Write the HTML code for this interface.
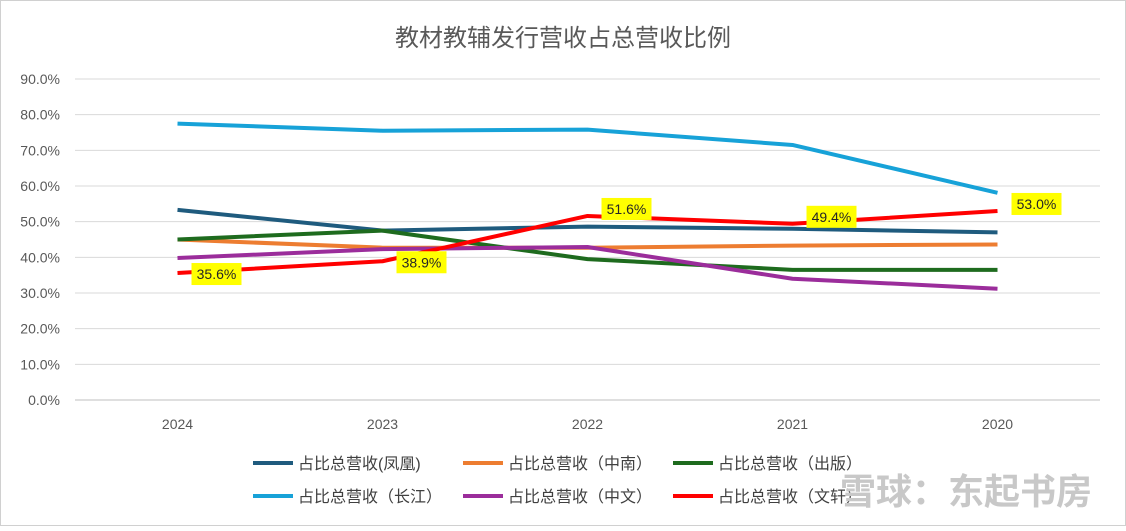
<!DOCTYPE html>
<html><head><meta charset="utf-8">
<style>
body{margin:0;background:#fff;}
svg text{font-family:"Liberation Sans","Noto Sans CJK SC",sans-serif;}
</style></head>
<body>
<svg id="chart" width="1126" height="526" viewBox="0 0 1126 526" xmlns="http://www.w3.org/2000/svg">
<rect x="0.5" y="0.5" width="1125" height="525" fill="#fff" stroke="#d0d0d0"/>
<text x="563" y="46" text-anchor="middle" font-size="24" fill="#595959">教材教辅发行营收占总营收比例</text>
<g id="grid"></g><g id="series"></g><g id="labels"></g><g id="legend"></g>
<text x="1092" y="504" text-anchor="end" font-size="36" fill="#c8c8c8" font-weight="bold">雪球：东起书房</text>
</svg>
<script>
const categories=["2024","2023","2022","2021","2020"];
const yTicks=[0,10,20,30,40,50,60,70,80,90];
const seriesNames=["占比总营收(凤凰)","占比总营收（中南）","占比总营收（出版）","占比总营收（长江）","占比总营收（中文）","占比总营收（文轩）"];
const fenghuang=[53.3,47.5,48.6,48.0,47.0];
const zhongnan=[45.0,42.7,42.7,43.3,43.6];
const chuban=[45.0,47.5,39.5,36.5,36.5];
const changjiang=[77.5,75.5,75.8,71.5,58.1];
const zhongwen=[39.8,42.3,42.9,34.0,31.2];
const wenxuan=[35.6,38.9,51.6,49.4,53.0];
const colors=["#1f5b7e","#ed7d31","#1e6b1e","#17a2d8","#9b2d9b","#ff0000"];
const NS="http://www.w3.org/2000/svg";
const x0=75,x1=1100,y0=400,yTop=79;
function xs(i){return x0+(x1-x0)*(i+0.5)/categories.length;}
function ys(v){return y0-(y0-yTop)*v/90;}
function mk(tag,attrs,parent){const e=document.createElementNS(NS,tag);for(const k in attrs)e.setAttribute(k,attrs[k]);parent.appendChild(e);return e;}
const grid=document.getElementById('grid');
yTicks.forEach(t=>{
 const l=mk('line',{x1:x0,x2:x1,y1:ys(t),y2:ys(t),stroke:t===0?'#bfbfbf':'#d9d9d9','stroke-width':1},grid);
 
 
 const tx=mk('text',{x:60,y:ys(t)+5,'text-anchor':'end','font-size':14,fill:'#595959'},grid);
 tx.textContent=t.toFixed(1)+'%';
 
 
});
categories.forEach((c,i)=>{
 const tx=mk('text',{x:xs(i),y:429,'text-anchor':'middle','font-size':14,fill:'#595959'},grid);
 tx.textContent=c;
 
 
});
const all=[fenghuang,zhongnan,chuban,changjiang,zhongwen,wenxuan];
const sg=document.getElementById('series');
all.forEach((d,si)=>{
 const p=mk('polyline',{points:d.map((v,i)=>xs(i)+','+ys(v)).join(' '),fill:'none',stroke:colors[si],'stroke-width':4,'stroke-linejoin':'round'},sg);
 
 
});
const lg=document.getElementById('labels');
wenxuan.forEach((v,i)=>{
 const lx=xs(i)+14,ly=ys(v)+(i<2?-14:-22);
 const t=v.toFixed(1)+'%';
 const r=mk('rect',{x:lx,y:ly+4,width:50,height:22,fill:'#ffff00'},lg);
 
 
 const tx=mk('text',{x:lx+25,y:ly+20,'text-anchor':'middle','font-size':14,fill:'#262626'},lg);
 tx.textContent=t;
 
 
});
const leg=document.getElementById('legend');
seriesNames.forEach((n,i)=>{
 const lx=253+(i%3)*210,ly=i<3?463:496;
 const l=mk('line',{x1:lx,x2:lx+40,y1:ly,y2:ly,stroke:colors[i],'stroke-width':4},leg);
 
 
 const tx=mk('text',{x:lx+45,y:ly+6,'font-size':16,fill:'#404040'},leg);
 tx.textContent=n;
 
 
});
</script>
</body></html>
